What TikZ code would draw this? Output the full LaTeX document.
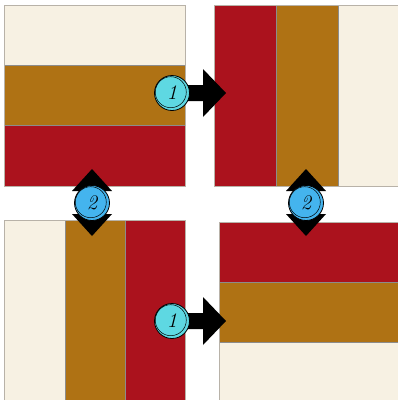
\documentclass[tikz,border=0pt]{standalone}
\usetikzlibrary{calc}
\definecolor{cream}{HTML}{F7F1E3}
\definecolor{gold}{HTML}{AF7214}
\definecolor{crimson}{HTML}{AB121D}
\definecolor{cyanone}{HTML}{5ED8E2}
\definecolor{bluetwo}{HTML}{44B4EE}
\definecolor{edge}{HTML}{B8B2A8}
\tikzset{
  stripe/.style={draw=black!45, line width=0.3pt},
  panelborder/.style={draw=edge, line width=0.6pt},
  arrowshape/.style={fill=black, draw=none},
  badge/.style={circle, minimum size=35pt, inner sep=0pt, draw=black, line width=0.8pt, font=\huge\itshape},
}
\begin{document}
\begin{tikzpicture}[x=1pt,y=-1pt]
\useasboundingbox (0,0) rectangle (398,400);
\fill[white] (0,0) rectangle (398,400);
% top-left: horizontal stripes
\fill[cream] (4,5) rectangle (185,65);
\fill[gold] (4,65) rectangle (185,125);
\fill[crimson] (4,125) rectangle (185,186);
\draw[stripe] (4,65) -- (185,65) (4,125) -- (185,125);
\draw[panelborder] (4,5) rectangle (185,186);
% top-right: vertical stripes
\fill[crimson] (214,5) rectangle (276,186);
\fill[gold] (276,5) rectangle (338,186);
\fill[cream] (338,5) rectangle (398,186);
\draw[stripe] (276,5) -- (276,186) (338,5) -- (338,186);
\draw[panelborder] (214,5) rectangle (398,186);
% bottom-left: vertical stripes
\fill[cream] (4,220) rectangle (65,400);
\fill[gold] (65,220) rectangle (125,400);
\fill[crimson] (125,220) rectangle (185,400);
\draw[stripe] (65,220) -- (65,400) (125,220) -- (125,400);
\draw[panelborder] (4,220) rectangle (185,400);
% bottom-right: horizontal stripes
\fill[crimson] (219,222) rectangle (398,282);
\fill[gold] (219,282) rectangle (398,342);
\fill[cream] (219,342) rectangle (398,400);
\draw[stripe] (219,282) -- (398,282) (219,342) -- (398,342);
\draw[panelborder] (219,222) rectangle (398,400);
% right arrows
\fill[arrowshape] (178,85) -- (203,85) -- (203,69) -- (226,93) -- (203,117) -- (203,101) -- (178,101) -- cycle;
\fill[arrowshape] (178,313) -- (203,313) -- (203,297) -- (226,321) -- (203,345) -- (203,329) -- (178,329) -- cycle;
% double vertical arrows
\fill[arrowshape] (92,169) -- (112,191) -- (99,191) -- (99,214) -- (112,214) -- (92,236) -- (72,214) -- (85,214) -- (85,191) -- (72,191) -- cycle;
\fill[arrowshape] (306,169) -- (326,191) -- (313,191) -- (313,214) -- (326,214) -- (306,236) -- (286,214) -- (299,214) -- (299,191) -- (286,191) -- cycle;
% badges
\node[badge, fill=cyanone] (b1top) at (172,93) {1};
\node[badge, fill=cyanone] (b1bot) at (172,321) {1};
\node[badge, fill=bluetwo] (b2left) at (92,203) {2};
\node[badge, fill=bluetwo] (b2right) at (306,203) {2};
\foreach \n in {b1top,b1bot,b2left,b2right}
  \draw[line width=0.5pt] ($(\n.center)+(-1.2,-0.8)$) circle (15.5pt);
\end{tikzpicture}
\end{document}
